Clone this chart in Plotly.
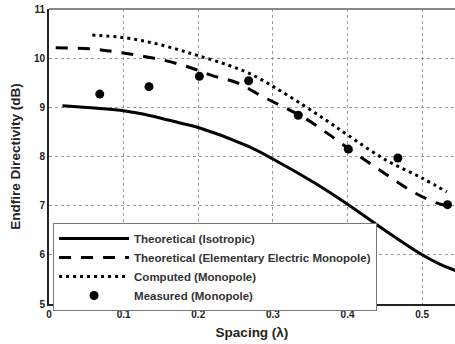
import plotly.graph_objects as go

# Theoretical (Isotropic)
iso_x = [0.018, 0.065, 0.1, 0.136, 0.176, 0.2, 0.265, 0.3, 0.355, 0.4, 0.45, 0.5, 0.525, 0.545]
iso_y = [9.03, 8.98, 8.93, 8.83, 8.68, 8.59, 8.22, 7.95, 7.47, 7.03, 6.5, 6.0, 5.8, 5.68]

# Theoretical (Elementary Electric Monopole)
elem_x = [0.009, 0.056, 0.089, 0.122, 0.156, 0.189, 0.22, 0.252, 0.286, 0.318, 0.345, 0.375, 0.404, 0.433, 0.46, 0.489, 0.52, 0.533]
elem_y = [10.21, 10.19, 10.13, 10.05, 9.95, 9.81, 9.64, 9.5, 9.22, 8.98, 8.76, 8.45, 8.13, 7.83, 7.55, 7.27, 7.05, 7.0]

# Computed (Monopole)
comp_x = [0.058, 0.1, 0.136, 0.172, 0.2, 0.236, 0.27, 0.303, 0.34, 0.373, 0.4, 0.45, 0.5, 0.533]
comp_y = [10.47, 10.42, 10.32, 10.18, 10.05, 9.88, 9.68, 9.40, 9.05, 8.72, 8.44, 7.94, 7.56, 7.28]

# Measured (Monopole)
meas_x = [0.068, 0.134, 0.2015, 0.2675, 0.334, 0.401, 0.4675, 0.534]
meas_y = [9.27, 9.42, 9.63, 9.54, 8.84, 8.15, 7.97, 7.02]

x_ticks = [0, 0.1, 0.2, 0.3, 0.4, 0.5]
x_labels = ["0", "0.1", "0.2", "0.3", "0.4", "0.5"]
y_ticks = [5, 6, 7, 8, 9, 10, 11]
y_labels = ["5", "6", "7", "8", "9", "10", "11"]

FONT = "Liberation Sans, Arial, sans-serif"

fig = go.Figure()
fig.add_trace(go.Scatter(x=iso_x, y=iso_y, mode="lines", name="Theoretical (Isotropic)",
                         line=dict(color="black", width=3, shape="spline")))
fig.add_trace(go.Scatter(x=elem_x, y=elem_y, mode="lines",
                         name="Theoretical (Elementary Electric Monopole)",
                         line=dict(color="black", width=3, dash="12px,10px", shape="spline")))
fig.add_trace(go.Scatter(x=comp_x, y=comp_y, mode="lines", name="Computed (Monopole)",
                         line=dict(color="black", width=3, dash="3px,4px", shape="spline")))
fig.add_trace(go.Scatter(x=meas_x, y=meas_y, mode="markers", name="Measured (Monopole)",
                         marker=dict(color="black", size=9, symbol="circle")))

axis_common = dict(
    showgrid=True, gridcolor="#9a9a9a", gridwidth=1, griddash="dot",
    zeroline=False, showline=True, linecolor="#222", linewidth=2,
    ticks="", automargin=False,
    tickfont=dict(family=FONT, size=10, color="#222", weight="bold"),
)

fig.update_layout(
    width=455, height=344,
    margin=dict(l=49, r=0, t=9, b=40),
    paper_bgcolor="white", plot_bgcolor="white",
    font=dict(family=FONT, color="#222"),
    xaxis=dict(range=[0, 0.544], tickvals=x_ticks, ticktext=x_labels,
               title=dict(text="Spacing (λ)", font=dict(family=FONT, size=13.5, weight="bold"), standoff=9),
               **axis_common),
    yaxis=dict(range=[5, 11], tickvals=y_ticks, ticktext=y_labels,
               title=dict(text="Endfire Directivity (dB)", font=dict(family=FONT, size=13.5, weight="bold"), standoff=10),
               **axis_common),
    legend=dict(x=0.01, y=0.2746, xanchor="left", yanchor="top",
                bgcolor="white", bordercolor="#777", borderwidth=1,
                font=dict(family=FONT, size=11.5, color="#333", weight="bold"),
                itemwidth=70, tracegroupgap=0),
    showlegend=True,
)
fig.add_shape(type="line", xref="paper", yref="paper", x0=0, x1=1, y0=1, y1=1,
              line=dict(color="#888", width=2))

fig.write_html("out.html", config={"displayModeBar": False},
               post_script="document.body.style.margin='0';document.body.style.overflow='hidden';")
